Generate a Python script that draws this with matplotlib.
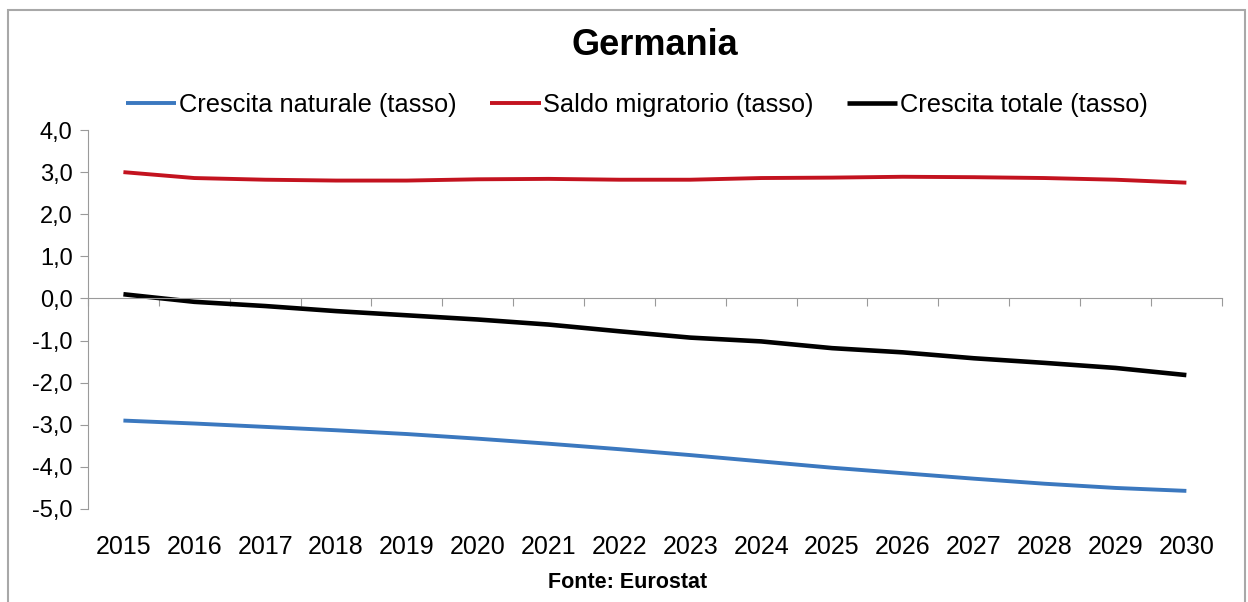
import matplotlib
matplotlib.use("Agg")
import matplotlib.pyplot as plt
import matplotlib.patches as mpatches
from matplotlib.ticker import FixedLocator

# ── Data ───────────────────────────────────────────────────────────────────────

years = [2015, 2016, 2017, 2018, 2019, 2020, 2021, 2022,
         2023, 2024, 2025, 2026, 2027, 2028, 2029, 2030]

crescita_naturale = [-2.90, -2.97, -3.05, -3.13, -3.22, -3.33, -3.45, -3.58,
                     -3.72, -3.87, -4.02, -4.15, -4.28, -4.40, -4.50, -4.57]

saldo_migratorio = [3.00, 2.86, 2.82, 2.80, 2.80, 2.83, 2.84, 2.82,
                    2.82, 2.86, 2.87, 2.89, 2.88, 2.86, 2.82, 2.75]

crescita_totale = [0.10, -0.08, -0.18, -0.30, -0.40, -0.50, -0.62, -0.78,
                   -0.93, -1.02, -1.18, -1.28, -1.42, -1.53, -1.65, -1.82]

y_ticks = [4, 3, 2, 1, 0, -1, -2, -3, -4, -5]

# ── Style ──────────────────────────────────────────────────────────────────────

plt.rcParams["font.family"] = ["Liberation Sans", "DejaVu Sans"]

BLUE  = "#3b78bf"
RED   = "#c3131f"
BLACK = "#000000"
GREY  = "#9a9a9a"

fig = plt.figure(figsize=(12.48, 6.02), dpi=100)
ax = fig.add_axes([0.0705, 0.1545, 0.9085, 0.6295])

x = list(range(len(years)))
ax.plot(x, crescita_naturale, color=BLUE, lw=2.8, solid_capstyle="butt",
        label="Crescita naturale (tasso)")
ax.plot(x, saldo_migratorio, color=RED, lw=2.8, solid_capstyle="butt",
        label="Saldo migratorio (tasso)")
ax.plot(x, crescita_totale, color=BLACK, lw=3.3, solid_capstyle="butt",
        label="Crescita totale (tasso)")

ax.set_xlim(-0.5, len(years) - 0.5)
ax.set_ylim(-5, 4)

# y axis
ax.set_yticks(y_ticks)
ax.set_yticklabels([f"{v:.1f}".replace(".", ",") for v in y_ticks], fontsize=17)
ax.tick_params(axis="y", direction="out", length=6, color=GREY, pad=5)

# x axis on zero, ticks between categories
for s in ["top", "right"]:
    ax.spines[s].set_visible(False)
ax.spines["left"].set_color(GREY)
ax.spines["bottom"].set_color(GREY)
ax.spines["bottom"].set_position(("data", 0))
ax.xaxis.set_major_locator(FixedLocator([i - 0.5 for i in range(len(years) + 1)]))
ax.set_xticklabels([])
ax.tick_params(axis="x", direction="out", length=6, color=GREY)

for xi, yr in zip(x, years):
    ax.text(xi, -5.9, str(yr), ha="center", va="center", fontsize=18, clip_on=False)

# title, legend, source
fig.text(0.525, 0.925, "Germania", ha="center", va="center", fontsize=26, fontweight="bold")
ax.legend(loc="lower center", bbox_to_anchor=(0.484, 1.0), ncol=3, frameon=False,
          fontsize=18.3, handlelength=2.0, handletextpad=0.1, columnspacing=1.3,
          borderaxespad=0.1)
fig.text(0.503, 0.033, "Fonte: Eurostat", ha="center", va="center", fontsize=15.5,
         fontweight="bold")

# outer frame
fig.patches.append(mpatches.Rectangle((8 / 1248, -0.05), 1237 / 1248, 1.05 - 10 / 602,
                                      transform=fig.transFigure, fill=False,
                                      edgecolor="#a8a8a8", lw=1.5))

fig.savefig("out.png", dpi=100)
